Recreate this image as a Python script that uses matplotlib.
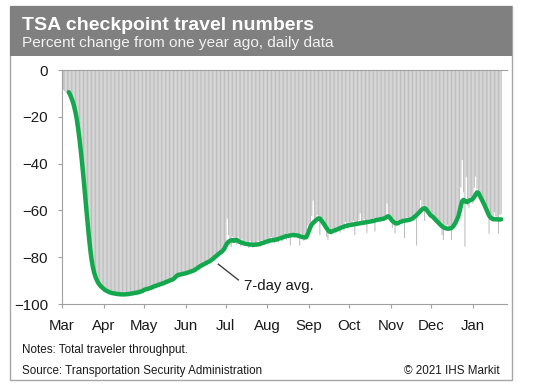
import numpy as np
import pandas as pd
from matplotlib import dates as mdates, pyplot as plt
from matplotlib.patches import Rectangle

plt.rcParams["font.family"] = ["Liberation Sans", "DejaVu Sans"]

START = "2020-03-01"

# daily % change vs. one year ago, one list per month
daily_mar = [-7, -8.5, -9, -9.5, -10, -9.8, -10.2, -12.3, -13.4, -15.8, -17.8, -21.3, -24.8, -29.7, -34.3,
             -40.2, -45.8, -52.7, -58.8, -65.2, -70.8, -76.7, -80.8, -84.5, -86.5, -88.7, -89.7, -91.2,
             -91.6, -92.7, -92.8]
daily_apr = [-93.2, -94.3, -94.6, -94.2, -95.3, -95.4, -95.0, -95.6, -95.9, -95.3, -95.8, -96.2, -95.6, -96.0,
             -96.2, -95.5, -95.9, -96.1, -95.5, -95.9, -95.8, -95.1, -95.6, -95.5, -94.9, -95.3, -95.2, -94.5,
             -94.9, -94.2]
daily_may = [-93.6, -94.2, -93.9, -93.1, -93.6, -93.4, -92.5, -92.9, -92.8, -91.8, -92.4, -92.1, -91.2, -91.7,
             -91.5, -90.6, -91.1, -90.8, -89.9, -90.4, -90.1, -89.1, -89.7, -88.4, -88.5, -87.3, -88.0, -87.1,
             -87.6, -86.7, -87.3]
daily_jun = [-87.2, -86.3, -86.8, -86.6, -85.7, -86.2, -86.0, -85.0, -85.3, -84.9, -83.8, -84.5, -83.8, -82.8,
             -83.2, -82.9, -81.9, -82.3, -82.0, -80.9, -81.2, -80.7, -79.4, -79.8, -79.2, -78.0, -78.3, -77.9,
             -76.4, -75.5]
daily_jul = [-74.5, -63.5, -70.5, -74.8, -75.6, -71.2, -73.9, -72.0, -74.6, -71.5, -73.2, -75.4, -72.4, -74.1,
             -75.3, -73.0, -74.6, -76.0, -73.1, -74.4, -75.9, -73.6, -74.8, -75.6, -72.9, -74.3, -75.4, -72.6,
             -73.9, -74.8, -72.4]
daily_aug = [-72.1, -74.5, -73.6, -71.4, -72.9, -74.0, -71.6, -72.3, -73.8, -70.9, -71.7, -73.2, -70.6, -71.5,
             -72.6, -69.8, -71.0, -75.0, -69.6, -70.2, -71.8, -69.4, -70.5, -72.0, -75.0, -69.9, -71.2, -73.0,
             -70.4, -68.8, -66.5]
daily_sep = [-66.0, -65.2, -62.4, -55.8, -63.5, -62.8, -61.9, -64.0, -70.5, -64.8, -65.9, -66.4, -67.3, -71.3,
             -72.6, -67.6, -68.2, -70.4, -67.5, -68.1, -69.8, -66.9, -67.2, -69.5, -66.0, -66.5, -68.6, -64.9,
             -66.2, -67.8]
daily_oct = [-65.1, -66.8, -67.2, -64.5, -70.5, -65.0, -66.1, -64.2, -61.3, -65.9, -64.6, -63.8, -66.2, -69.8,
             -64.0, -63.5, -65.4, -64.8, -63.2, -69.0, -64.6, -62.9, -63.4, -65.1, -62.8, -63.0, -64.6, -62.1,
             -57.0, -61.5, -64.2]
daily_nov = [-62.9, -67.6, -64.2, -69.8, -65.0, -64.3, -64.8, -63.9, -65.1, -64.0, -71.8, -63.5, -63.0, -64.2,
             -63.6, -62.4, -62.8, -64.5, -61.2, -75.0, -60.1, -60.0, -55.6, -58.8, -57.9, -64.5, -58.0, -59.6,
             -62.3, -61.0]
daily_dec = [-61.5, -63.8, -62.5, -64.9, -63.7, -65.8, -64.9, -66.0, -70.5, -72.6, -66.4, -67.0, -66.2, -68.5,
             -66.9, -72.6, -65.8, -64.4, -63.0, -61.7, -60.2, -57.3, -50.1, -38.5, -52.4, -75.5, -45.6, -57.8,
             -58.9, -54.3, -56.1]
daily_jan = [-57.2, -50.3, -45.6, -51.0, -53.8, -55.1, -53.0, -56.6, -58.4, -56.2, -60.3, -62.8, -70.0, -61.4,
             -62.6, -64.9, -60.8, -62.5, -63.1, -70.0, -62.0, -61.5]

# 7-day average, same days
avg_mar = [np.nan] * 5 + [-9.5, -10.5, -12, -13.5, -15.5, -18, -21, -25, -29.5, -34.5, -40, -46, -52.5, -59,
                          -65, -71, -76.5, -81, -84.3, -86.7, -88.5, -89.9, -91, -91.8, -92.5, -93]
avg_apr = [-93.5, -94, -94.3, -94.6, -94.9, -95.1, -95.3, -95.4, -95.5, -95.6, -95.7, -95.8, -95.8, -95.9,
           -95.9, -95.9, -95.9, -95.8, -95.8, -95.7, -95.6, -95.5, -95.4, -95.3, -95.2, -95.1, -95.0, -94.8,
           -94.6, -94.4]
avg_may = [-94.0, -93.8, -93.6, -93.5, -93.3, -93.1, -92.9, -92.6, -92.4, -92.2, -92.0, -91.8, -91.6, -91.4,
           -91.2, -91.0, -90.7, -90.5, -90.3, -90.0, -89.8, -89.6, -89.3, -88.8, -88.2, -87.7, -87.5, -87.4,
           -87.3, -87.1, -87.0]
avg_jun = [-86.9, -86.7, -86.5, -86.3, -86.1, -85.9, -85.7, -85.4, -85.0, -84.6, -84.2, -83.8, -83.5, -83.2,
           -82.9, -82.6, -82.3, -82.0, -81.7, -81.3, -80.9, -80.4, -79.9, -79.4, -78.9, -78.4, -78.0, -77.6,
           -77.0, -76.2]
avg_jul = [-75.0, -74.0, -73.4, -73.0, -72.8, -72.7, -73.0, -72.8, -72.6, -73.0, -73.4, -73.6, -73.8, -74.0,
           -74.2, -74.3, -74.4, -74.5, -74.6, -74.6, -74.7, -74.7, -74.6, -74.6, -74.5, -74.4, -74.2, -74.0,
           -73.8, -73.6, -73.4]
avg_aug = [-73.2, -73.0, -72.9, -72.8, -72.7, -72.6, -72.5, -72.4, -72.2, -72.0, -71.8, -71.6, -71.4, -71.2,
           -71.0, -70.9, -70.8, -70.7, -70.6, -70.5, -70.5, -70.6, -70.7, -70.8, -71.0, -71.2, -71.4, -71.5,
           -71.6, -71.3, -70.0]
avg_sep = [-68.5, -67.0, -66.0, -65.3, -64.8, -64.2, -63.7, -63.4, -63.5, -64.2, -65.0, -65.8, -66.7, -67.6,
           -68.4, -69.0, -69.2, -69.0, -68.7, -68.5, -68.3, -68.1, -67.8, -67.6, -67.3, -67.1, -66.9, -66.7,
           -66.6, -66.4]
avg_oct = [-66.3, -66.2, -66.1, -66.0, -65.9, -65.8, -65.7, -65.6, -65.5, -65.4, -65.3, -65.2, -65.1, -65.0,
           -64.9, -64.8, -64.7, -64.6, -64.5, -64.3, -64.1, -64.0, -63.9, -63.8, -63.7, -63.6, -63.4, -63.1,
           -62.7, -62.5, -63.0]
avg_nov = [-63.8, -64.5, -65.0, -65.4, -65.6, -65.5, -65.2, -64.9, -64.7, -64.5, -64.4, -64.3, -64.2, -64.1,
           -64.0, -63.7, -63.4, -63.0, -62.5, -62.0, -61.4, -60.8, -60.2, -59.6, -59.2, -59.0, -59.4, -60.2,
           -61.0, -61.8]
avg_dec = [-62.3, -62.7, -63.3, -63.9, -64.5, -65.1, -65.7, -66.3, -66.8, -67.2, -67.5, -67.7, -67.8, -67.8,
           -67.7, -67.5, -67.0, -66.2, -65.2, -64.0, -62.7, -60.5, -58.0, -56.0, -55.5, -56.0, -56.4, -56.3,
           -55.9, -55.6, -55.4]
avg_jan = [-55.0, -54.2, -53.2, -52.3, -52.5, -53.6, -54.8, -55.9, -57.0, -58.3, -59.7, -61.0, -62.2, -63.0,
           -63.5, -63.7, -63.8, -63.8, -63.8, -63.9, -63.9, -63.8]

y_ticks = [0, -20, -40, -60, -80, -100]

daily = (daily_mar + daily_apr + daily_may + daily_jun + daily_jul + daily_aug
         + daily_sep + daily_oct + daily_nov + daily_dec + daily_jan)
avg = (avg_mar + avg_apr + avg_may + avg_jun + avg_jul + avg_aug
       + avg_sep + avg_oct + avg_nov + avg_dec + avg_jan)
assert len(daily) == len(avg)
dates = pd.date_range(START, periods=len(daily), freq="D")

W, H = 540, 388
fig = plt.figure(figsize=(W / 100, H / 100), dpi=100)

# ---- frame + header band ----
fig.patches.append(Rectangle((10 / W, 1 - 380 / H), 502 / W, 374 / H, transform=fig.transFigure,
                             fill=False, edgecolor="#a6a6a6", linewidth=1))
fig.patches.append(Rectangle((10 / W, 1 - 56 / H), 502 / W, 50 / H, transform=fig.transFigure,
                             facecolor="#808080", edgecolor="none"))
fig.text(22 / W, 1 - 29.5 / H, "TSA checkpoint travel numbers", color="white",
         fontsize=14, fontweight="bold", va="baseline")
fig.text(22 / W, 1 - 47 / H, "Percent change from one year ago, daily data", color="#f2f2f2",
         fontsize=11.1, va="baseline")

# ---- plot ----
ax = fig.add_axes([62 / W, 1 - 304 / H, (507 - 62) / W, (304 - 70) / H])
ax.bar(dates, daily, width=0.8, color="#bebebe", linewidth=0, snap=False)
ax.plot(dates, avg, color="#14a84e", linewidth=3.2, solid_capstyle="round", solid_joinstyle="round")

ax.set_ylim(-100, 0)
ax.set_yticks(y_ticks)
ax.set_xlim(pd.Timestamp(START), pd.Timestamp("2021-01-26 08:00"))
ax.xaxis.set_major_locator(mdates.MonthLocator())
ax.xaxis.set_major_formatter(mdates.DateFormatter("%b"))

for side in ("left", "bottom", "top"):
    ax.spines[side].set_color("#a0a0a0")
ax.spines["right"].set_visible(False)
ax.tick_params(axis="both", length=3, color="#a0a0a0", labelsize=10.8, labelcolor="#1a1a1a")
ax.tick_params(axis="y", pad=7)
ax.tick_params(axis="x", pad=7.5)

# label for the average line
t0 = pd.Timestamp(START)
ax.plot([t0 + pd.Timedelta(days=116.4), t0 + pd.Timedelta(days=131.3)], [-83.0, -89.7],
        color="#404040", linewidth=1)
ax.text(t0 + pd.Timedelta(days=135.5), -94.2, "7-day avg.", fontsize=10.8, color="#1a1a1a",
        va="baseline")

# ---- notes ----
fig.text(22 / W, 1 - 352.5 / H, "Notes: Total traveler throughput.", fontsize=8.4, va="baseline",
         color="#1a1a1a")
fig.text(22 / W, 1 - 374 / H, "Source: Transportation Security Administration", fontsize=8.4,
         va="baseline", color="#1a1a1a")
fig.text(500 / W, 1 - 374 / H, "\u00a9 2021 IHS Markit", fontsize=8.4, va="baseline", ha="right",
         color="#1a1a1a")

fig.savefig("out.png", dpi=100)
